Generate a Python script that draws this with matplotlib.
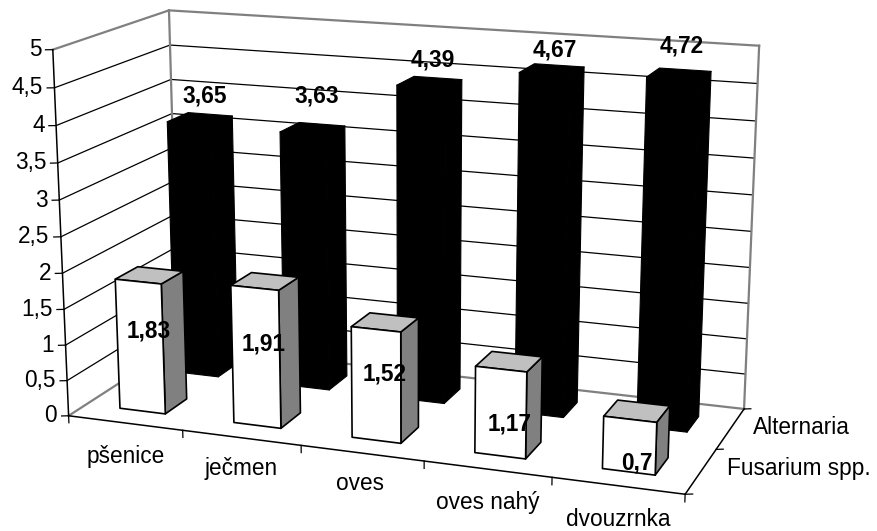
import numpy as np
import matplotlib
matplotlib.use('Agg')
import matplotlib.pyplot as plt
from mpl_toolkits.mplot3d import proj3d
from mpl_toolkits.mplot3d.art3d import Poly3DCollection

plt.rcParams['font.family'] = ['Liberation Sans', 'DejaVu Sans']

categories = ['pšenice', 'ječmen', 'oves', 'oves nahý', 'dvouzrnka']
series_names = ['Fusarium spp.', 'Alternaria']
fusarium = [1.83, 1.91, 1.52, 1.17, 0.7]
alternaria = [3.65, 3.63, 4.39, 4.67, 4.72]
z_ticks = [0, 0.5, 1, 1.5, 2, 2.5, 3, 3.5, 4, 4.5, 5]

W, H = 878, 531
fig = plt.figure(figsize=(W/100, H/100), dpi=100)
ax = fig.add_axes([0, 0, 1, 1], projection='3d', computed_zorder=False)
ax.apply_aspect = lambda position=None: None
ax.set_xlim(0, 5, view_margin=0)
ax.set_ylim(0, 2, view_margin=0)
ax.set_zlim(0, 5, view_margin=0)
ax.set_axis_off()
ax.patch.set_alpha(0)

# camera fitted to the reference
ax.view_init(elev=15.1631, azim=-69.8028, roll=0.0339)
ax.set_proj_type('persp', focal_length=float(np.exp(-0.5995)))
ax.set_box_aspect((1, 0.4012, 0.6096))
cx, cy, sx, sy = 0.4524, 0.5402, 0.8776, 1.4020
ax.set_position([cx - sx/2, cy - sy/2, sx, sy])
ax.M = ax.get_proj()
BX0, BX1, BY0, BY1 = 0.2989, 0.7012, 0.3038, 0.6957
GR = '#808080'


def line(a, b, color='k', lw=1.0, z=1):
    ax.plot([a[0], b[0]], [a[1], b[1]], [a[2], b[2]], color=color, lw=lw,
            zorder=z, solid_capstyle='projecting')


for t in z_ticks:
    c, l = (GR, 1.6) if t in (0, 5) else ('k', 0.9)
    line((0, 0, t), (0, 2, t), c, l)
    line((0, 2, t), (5, 2, t), c, l)
    line((0, 0, t), (-.05, -.023, t), 'k', .9)
line((0, 2, 0), (0, 2, 5), GR, 1.6)
line((5, 2, 0), (5, 2, 5), GR, 1.6)
line((0, 0, 0), (0, 0, 5), 'k', 1.1)
line((0, 0, 0), (5, 0, 0), 'k', 1.1)
line((5, 0, 0), (5, 2, 0), 'k', 1.1)
for i in range(6):
    line((i, 0, 0), (i, 0, -.1), 'k', .9)
for j in range(3):
    line((5, j, 0), (5.05, j + .023, 0), 'k', .9)


def bar(i, j, h, cols, ec, lw, z):
    x0, x1, y0, y1 = i + BX0, i + BX1, j + BY0, j + BY1
    F = [[(x0, y0, 0), (x1, y0, 0), (x1, y0, h), (x0, y0, h)],
         [(x1, y0, 0), (x1, y1, 0), (x1, y1, h), (x1, y0, h)],
         [(x0, y0, h), (x1, y0, h), (x1, y1, h), (x0, y1, h)]]
    ax.add_collection3d(Poly3DCollection(F, facecolors=cols, edgecolors=ec,
                                         linewidths=lw, zorder=z))


for i, h in enumerate(alternaria):
    bar(i, 1, h, ['k', 'k', 'k'], 'k', .8, 2)
for i, h in enumerate(fusarium):
    bar(i, 0, h, ['w', GR, '#C0C0C0'], 'k', 1.2, 3)

FS = 16.3


def put(px, py, s, **kw):
    fig.text(px / W, 1 - py / H, s, fontsize=FS, zorder=5, **kw)


def fmt(v):
    return f'{v:g}'.replace('.', ',')


for t in z_ticks:
    X, Y, _ = proj3d.proj_transform(0, 0, t, ax.M)
    px, py = ax.transData.transform((X, Y))
    put(px - 11.5, H - py, fmt(t), ha='right', va='center')

cat_xy = [(126, 456), (241, 469), (360, 484), (488, 503), (618, 519)]
for c, (x, y) in zip(categories, cat_xy):
    put(x, y, c, ha='center', va='center')
ser_xy = [(727, 469), (753, 427)]
for s, (x, y) in zip(series_names, ser_xy):
    put(x, y, s, ha='left', va='center')
alt_xy = [(205, 96), (317, 96), (433, 60), (555, 50), (682, 46)]
for h, (x, y) in zip(alternaria, alt_xy):
    put(x, y, fmt(h), ha='center', va='center', fontweight='bold')
fus_xy = [(149, 331), (264, 344), (385, 374), (510, 424), (637, 463)]
for h, (x, y) in zip(fusarium, fus_xy):
    put(x, y, fmt(h), ha='center', va='center', fontweight='bold')
fig.savefig('out.png', dpi=100)
